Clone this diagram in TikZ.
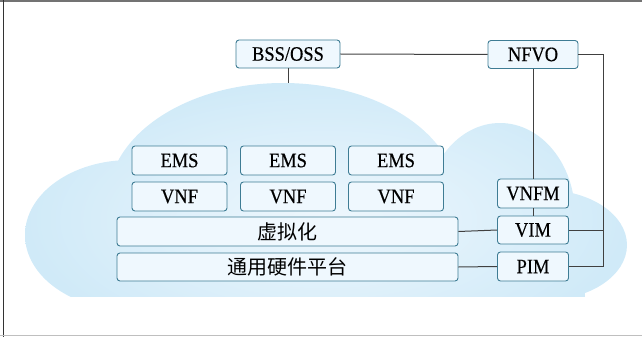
\documentclass[tikz,border=0pt]{standalone}
\usepackage{fontspec}
\setmainfont[FakeStretch=0.9, FakeBold=0.4]{Liberation Serif}
\newfontfamily\cjk{Noto Sans CJK SC}
\usetikzlibrary{positioning}
\definecolor{cloudin}{RGB}{238,247,253}
\definecolor{cloudout}{RGB}{208,234,248}
\definecolor{boxline}{RGB}{62,124,148}
\definecolor{boxfill}{RGB}{239,248,254}
\definecolor{wirecol}{RGB}{64,64,64}

\begin{document}
\begin{tikzpicture}[x=1pt,y=-1pt,
  blk/.style={draw=boxline, fill=boxfill, rounded corners=3pt, line width=0.9pt,
    inner sep=0pt, font=\fontsize{20.5}{20.5}\selectfont},
  zh/.style={blk, font=\cjk\fontsize{20}{20}\selectfont},
  wire/.style={draw=wirecol, line width=1pt}]
  \useasboundingbox (0,0) rectangle (642,337);
  % frame
  \draw[black!55, line width=2pt] (0,1) -- (642,1);
  \draw[black!80, line width=1.5pt] (3.5,0) -- (3.5,337);
  \draw[black!25, line width=1.2pt] (0,335.5) -- (642,335.5);
  % cloud
  \begin{scope}
    \clip (0,0) rectangle (642,296);
    \shade[inner color=cloudin, outer color=cloudout]
      (130,235) ellipse [x radius=105, y radius=75]
      (283,200) ellipse [x radius=175, y radius=117]
      (500,215) ellipse [x radius=75, y radius=92]
      (545,245) ellipse [x radius=82, y radius=55]
      (380,296) ellipse [x radius=205, y radius=60];
  \end{scope}
  % management side
  \node[blk, minimum width=104, minimum height=28] (bss) at (288,54) {BSS/OSS};
  \node[blk, minimum width=90, minimum height=28] (nfvo) at (533,54.5) {NFVO};
  \node[blk, minimum width=71, minimum height=29] (vnfm) at (533,193.5) {VNFM};
  \node[blk, minimum width=71, minimum height=28] (vim) at (533,230) {VIM};
  \node[blk, minimum width=71, minimum height=29] (pim) at (533,266.5) {PIM};
  % function side
  \node[blk, minimum width=95, minimum height=29] (ems1) at (179.5,160.5) {EMS};
  \node[blk, minimum width=95, minimum height=29] (ems2) at (288,160.5) {EMS};
  \node[blk, minimum width=95, minimum height=29] (ems3) at (396,160.5) {EMS};
  \node[blk, minimum width=95, minimum height=29] (vnf1) at (179.5,196.5) {VNF};
  \node[blk, minimum width=95, minimum height=29] (vnf2) at (288,196.5) {VNF};
  \node[blk, minimum width=95, minimum height=29] (vnf3) at (396,196.5) {VNF};
  \node[zh, minimum width=341, minimum height=29] (virt) at (287.5,231.5) {虚拟化};
  \node[zh, minimum width=341, minimum height=28] (hw) at (287.5,267) {通用硬件平台};
  \coordinate (cloudtop) at (288,83);
  \coordinate (rt) at (603,266.5);
  % connectors
  \draw[wire] (bss.south) -- (cloudtop);
  \draw[wire] (bss.east) -- (nfvo.west);
  \draw[wire] (nfvo.south) -- (vnfm.north);
  \draw[wire] (vnfm.south) -- (vim.north);
  \draw[wire] (nfvo.east) -| (rt) -- (pim.east);
  \draw[wire] (vim.east) -- (vim.east -| rt);
  \draw[wire] (virt.east) -- (vim.west);
  \draw[wire] (hw.east) -- (pim.west);
\end{tikzpicture}
\end{document}
